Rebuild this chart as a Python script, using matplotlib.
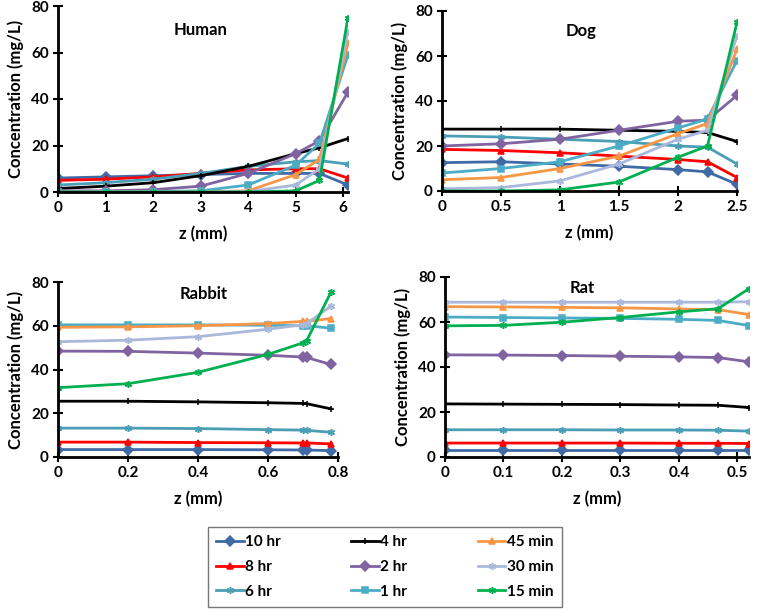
import numpy as np
import matplotlib
matplotlib.use('Agg')
import matplotlib.pyplot as plt

plt.rcParams['font.family'] = ['Lato', 'DejaVu Sans']
plt.rcParams['font.weight'] = 'bold'

# series (same order as the legend, filled column by column)
labels = ['10 hr', '8 hr', '6 hr', '4 hr', '2 hr', '1 hr', '45 min', '30 min', '15 min']
colors = ['#3F6AA6', '#FF0000', '#4A9EB5', '#000000', '#8064A2',
          '#4BACC6', '#F79646', '#AAB8DC', '#00B050']
markers = ['D', '^', (6, 2, 0), '+', 'D', 's', '^', (6, 2, 0), (6, 2, 0)]

# Human
human_z = [0, 1, 2, 3, 4, 5, 5.5, 6.1]
human = [
    [6, 6.5, 7, 7.5, 8, 8, 8, 3],
    [5, 5.5, 6.5, 8, 9.5, 10, 10, 6],
    [3, 4, 5.5, 8, 11, 13, 13.5, 12],
    [1.5, 2.5, 4, 7, 11, 16.5, 19, 23],
    [0.5, 0.5, 1, 2.5, 8, 16.5, 22, 43],
    [0, 0, 0.2, 0.5, 3, 11.5, 21, 59],
    [0, 0, 0, 0, 0.5, 7.5, 14, 64],
    [0, 0, 0, 0, 0.2, 3, 10, 69],
    [0, 0, 0, 0, 0, 0.5, 5, 75],
]

# Dog
dog_z = [0, 0.5, 1, 1.5, 2, 2.25, 2.5]
dog = [
    [12.6, 13, 12, 11, 9.5, 8.5, 3],
    [18.5, 18, 17, 15.5, 14, 13, 6],
    [24.5, 24, 23, 22, 20, 19.5, 12],
    [27.5, 27.5, 27.5, 27, 26.5, 26, 22],
    [20, 21, 23, 27, 31, 31.5, 42.5],
    [8, 10, 13, 20, 28, 32, 58],
    [5, 6, 10, 15.5, 25.5, 30, 63],
    [1, 1.5, 4.5, 12, 23, 27, 69],
    [0, 0, 0.5, 4, 15, 20, 75],
]

# Rabbit
rabbit_z = [0, 0.2, 0.4, 0.6, 0.7, 0.71, 0.78]
rabbit = [
    [3.4, 3.4, 3.4, 3.3, 3.2, 3.2, 2.9],
    [6.8, 6.8, 6.6, 6.5, 6.4, 6.4, 6],
    [13.2, 13.2, 13, 12.5, 12.3, 12.2, 11.3],
    [25.5, 25.5, 25.2, 24.8, 24.5, 24.4, 22],
    [48.4, 48.3, 47.5, 46.5, 45.7, 45.5, 42.3],
    [60.4, 60.4, 60.4, 60.2, 60, 60, 58.9],
    [59.3, 59.5, 60, 61, 62, 62, 63.3],
    [52.7, 53.4, 55, 58.4, 60.5, 61, 69],
    [31.7, 33.5, 38.7, 46.9, 52.2, 53, 75.4],
]

# Rat
rat_z = [0, 0.1, 0.2, 0.3, 0.4, 0.467, 0.52]
rat = [
    [3, 3, 3, 3, 3, 3, 3],
    [6.2, 6.2, 6.2, 6.2, 6.1, 6.1, 6],
    [12.1, 12.1, 12.1, 12, 12, 11.9, 11.5],
    [23.6, 23.5, 23.4, 23.3, 23.1, 23, 22],
    [45.4, 45.3, 45.1, 44.8, 44.5, 44.2, 42.3],
    [62.2, 62, 61.8, 61.6, 61.2, 60.7, 58.4],
    [66.8, 66.7, 66.5, 66.3, 65.8, 65.5, 63.3],
    [68.8, 68.8, 68.8, 68.8, 68.8, 68.8, 69],
    [58.3, 58.5, 59.9, 62, 64.5, 65.9, 74.8],
]

W, H = 760, 611
fig = plt.figure(figsize=(W / 100, H / 100), dpi=100)


def make_ax(left, right, top, bottom):
    return fig.add_axes([left / W, 1 - bottom / H, (right - left) / W, (bottom - top) / H])


def panel(ax, z, data, xmax, xticks, xticklabels, title, title_xy):
    for vals, lab, c, m in zip(data, labels, colors, markers):
        ax.plot(z, vals, color=c, marker=m, markersize=5, linewidth=2,
                markeredgewidth=1.1, label=lab)
    ax.set_xlim(0, xmax)
    ax.set_ylim(0, 80)
    ax.set_xticks(xticks)
    ax.set_xticklabels(xticklabels)
    ax.set_yticks([0, 20, 40, 60, 80])
    for s in ['top', 'right']:
        ax.spines[s].set_visible(False)
    for s in ['left', 'bottom']:
        ax.spines[s].set_linewidth(2)
    ax.tick_params(direction='inout', length=7, width=1.5, labelsize=11, pad=3)
    ax.set_xlabel('z (mm)', fontsize=12, fontweight='bold', labelpad=8)
    ax.set_ylabel('Concentration (mg/L)', fontsize=12, fontweight='bold', labelpad=5)
    ax.text(title_xy[0], title_xy[1], title, transform=ax.transAxes,
            fontsize=12, fontweight='bold', ha='center', va='center')
    ax.patch.set_visible(False)


ax1 = make_ax(58, 348, 6, 192)
panel(ax1, human_z, human, 6.1, [0, 1, 2, 3, 4, 5, 6],
      ['0', '1', '2', '3', '4', '5', '6'], 'Human', (0.49, 0.87))

ax2 = make_ax(442, 737, 11, 191)
panel(ax2, dog_z, dog, 2.5, [0, 0.5, 1, 1.5, 2, 2.5],
      ['0', '0.5', '1', '1.5', '2', '2.5'], 'Dog', (0.47, 0.89))

ax3 = make_ax(58, 338, 282, 457)
panel(ax3, rabbit_z, rabbit, 0.8, [0, 0.2, 0.4, 0.6, 0.8],
      ['0', '0.2', '0.4', '0.6', '0.8'], 'Rabbit', (0.52, 0.93))

ax4 = make_ax(445, 749, 277, 457)
panel(ax4, rat_z, rat, 0.52, [0, 0.1, 0.2, 0.3, 0.4, 0.5],
      ['0', '0.1', '0.2', '0.3', '0.4', '0.5'], 'Rat', (0.45, 0.94))

handles, labs = ax1.get_legend_handles_labels()
leg = fig.legend(handles, labs, ncol=3, loc='upper left',
                 bbox_to_anchor=(208 / W, 1 - 527 / H), fontsize=11,
                 frameon=True, fancybox=False, edgecolor='#555555',
                 handlelength=1.8, handletextpad=0.1, columnspacing=4.6,
                 labelspacing=0.7, borderpad=0.55, borderaxespad=0)
leg.get_frame().set_linewidth(1)

fig.savefig('out.png', dpi=100)
